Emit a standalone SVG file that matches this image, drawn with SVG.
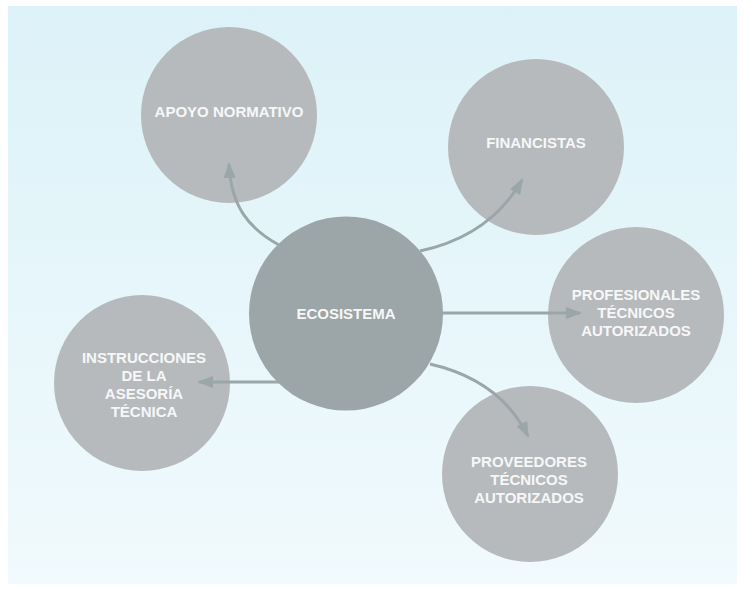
<svg xmlns="http://www.w3.org/2000/svg" width="744" height="590" viewBox="0 0 744 590">
  <defs>
    <linearGradient id="bg" x1="0" y1="0" x2="0" y2="1">
      <stop offset="0" stop-color="#dcf2f8"/>
      <stop offset="1" stop-color="#f1fafd"/>
    </linearGradient>
    <marker id="arrow" markerUnits="userSpaceOnUse" markerWidth="16" markerHeight="12" refX="14" refY="6" orient="auto">
      <path d="M0,0 L16,6 L0,12 Z" fill="#9aa6a8"/>
    </marker>
    <style>
      .hub { fill: #9ca6a8; }
      .leaf { fill: #b6babd; }
      .lbl { font-family: "Liberation Sans", Arial, sans-serif; font-weight: bold; font-size: 15px; fill: #f7f7f7; text-anchor: middle; }
      .link { fill: none; stroke: #9aa6a8; stroke-width: 3; marker-end: url(#arrow); }
    </style>
  </defs>

  <rect width="744" height="590" fill="#ffffff"/>
  <rect x="8" y="6" width="729" height="578" fill="url(#bg)"/>

  <!-- outer circles -->
  <g id="apoyo">
    <circle class="leaf" cx="229" cy="115" r="88"/>
    <text class="lbl" x="229" y="117">APOYO NORMATIVO</text>
  </g>
  <g id="financistas">
    <circle class="leaf" cx="536" cy="147" r="88"/>
    <text class="lbl" x="536" y="148">FINANCISTAS</text>
  </g>
  <g id="profesionales">
    <circle class="leaf" cx="636" cy="315" r="88"/>
    <text class="lbl" x="636" y="300">PROFESIONALES</text>
    <text class="lbl" x="636" y="318">TÉCNICOS</text>
    <text class="lbl" x="636" y="336">AUTORIZADOS</text>
  </g>
  <g id="instrucciones">
    <circle class="leaf" cx="142" cy="383" r="88"/>
    <text class="lbl" x="144" y="362.5">INSTRUCCIONES</text>
    <text class="lbl" x="144" y="380.5">DE LA</text>
    <text class="lbl" x="144" y="398.5">ASESORÍA</text>
    <text class="lbl" x="144" y="416.5">TÉCNICA</text>
  </g>
  <g id="proveedores">
    <circle class="leaf" cx="530" cy="474" r="88"/>
    <text class="lbl" x="529" y="466.5">PROVEEDORES</text>
    <text class="lbl" x="529" y="484.5">TÉCNICOS</text>
    <text class="lbl" x="529" y="502.5">AUTORIZADOS</text>
  </g>

  <!-- connectors from the hub -->
  <g id="connectors">
    <path class="link" d="M279,245 C248,228 231,206 229,164"/>
    <path class="link" d="M420,251 Q490,236 522,180"/>
    <path class="link" d="M440,313 L580,313"/>
    <path class="link" d="M282,382 L199,382"/>
    <path class="link" d="M430,364 Q500,380 528,436"/>
  </g>

  <!-- hub -->
  <g id="ecosistema">
    <circle class="hub" cx="346" cy="313.5" r="97"/>
    <text class="lbl" x="346" y="319">ECOSISTEMA</text>
  </g>
</svg>
